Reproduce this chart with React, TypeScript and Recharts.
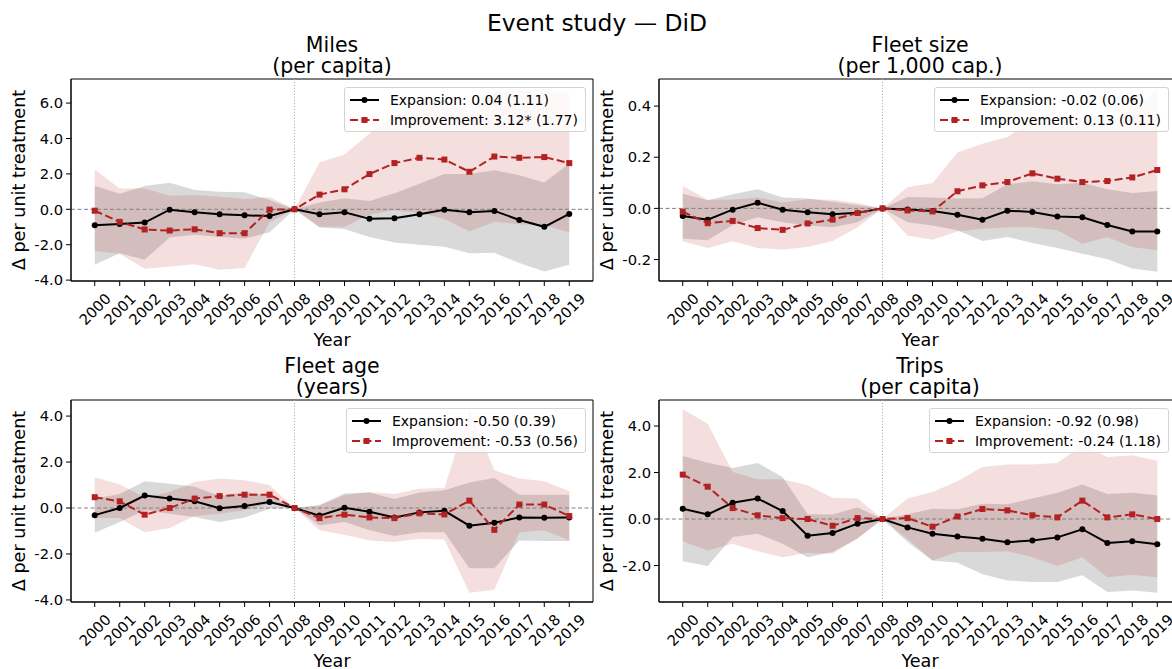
import React from 'react';
import {
  ComposedChart,
  Area,
  Line,
  XAxis,
  YAxis,
  ReferenceLine,
  ReferenceArea,
  Legend
} from 'recharts';

const FONT = '"DejaVu Sans", Verdana, sans-serif';
const RED = '#b22222';

const YEARS = [2000, 2001, 2002, 2003, 2004, 2005, 2006, 2007, 2008, 2009, 2010, 2011, 2012, 2013, 2014, 2015, 2016, 2017, 2018, 2019];

// Miles (per capita)
const milesExp = [-0.9, -0.83, -0.75, -0.02, -0.17, -0.28, -0.34, -0.38, 0, -0.28, -0.17, -0.54, -0.51, -0.28, -0.02, -0.17, -0.09, -0.6, -0.99, -0.26];
const milesExpLo = [-3.13, -2.48, -2.85, -1.59, -1.44, -1.56, -1.67, -1.29, 0, -1.03, -1.11, -1.56, -1.88, -2.0, -2.12, -2.48, -2.46, -3.04, -3.51, -3.13];
const milesExpHi = [1.33, 0.88, 1.31, 1.5, 1.09, 0.99, 0.96, 0.53, 0, 0.39, 0.62, 0.47, 0.9, 1.44, 2.0, 2.0, 2.21, 1.93, 1.52, 2.59];
const milesImp = [-0.08, -0.71, -1.14, -1.2, -1.13, -1.35, -1.35, -0.02, 0, 0.83, 1.13, 1.99, 2.61, 2.91, 2.81, 2.12, 2.98, 2.91, 2.95, 2.61];
const milesImpLo = [-2.35, -2.51, -3.36, -3.23, -3.1, -3.41, -3.32, -0.73, 0, -0.98, -0.98, -0.3, -0.05, -0.2, -0.55, -1.25, -0.7, -0.85, -0.9, -1.3];
const milesImpHi = [2.25, 1.18, 1.18, 0.77, 0.81, 0.71, 0.58, 0.69, 0, 2.65, 3.1, 4.28, 5.27, 6.0, 6.17, 5.49, 6.66, 6.67, 6.8, 6.52];
const milesLabels = ['Expansion: 0.04 (1.11)', 'Improvement: 3.12* (1.77)'];
const milesTicks = [-4, -2, 0, 2, 4, 6];

// Fleet size (per 1,000 cap.)
const fleetExp = [-0.03, -0.044, -0.005, 0.022, -0.005, -0.015, -0.023, -0.017, 0, -0.004, -0.01, -0.025, -0.044, -0.009, -0.014, -0.032, -0.035, -0.065, -0.09, -0.09];
const fleetExpLo = [-0.119, -0.125, -0.065, -0.035, -0.054, -0.067, -0.074, -0.054, 0, -0.054, -0.067, -0.086, -0.128, -0.112, -0.135, -0.155, -0.177, -0.199, -0.235, -0.248];
const fleetExpHi = [0.057, 0.032, 0.055, 0.075, 0.043, 0.039, 0.026, 0.013, 0, 0.045, 0.043, 0.039, 0.04, 0.094, 0.106, 0.094, 0.1, 0.075, 0.06, 0.068];
const fleetImp = [-0.013, -0.058, -0.049, -0.077, -0.084, -0.059, -0.044, -0.018, 0, -0.008, -0.012, 0.067, 0.09, 0.103, 0.137, 0.116, 0.103, 0.107, 0.121, 0.15];
const fleetImpLo = [-0.129, -0.155, -0.129, -0.155, -0.161, -0.151, -0.128, -0.074, 0, -0.106, -0.123, -0.09, -0.08, -0.074, -0.074, -0.086, -0.138, -0.112, -0.151, -0.164];
const fleetImpHi = [0.088, 0.034, 0.034, 0.043, 0.023, 0.036, 0.034, 0.021, 0, 0.084, 0.098, 0.219, 0.253, 0.279, 0.348, 0.318, 0.344, 0.326, 0.393, 0.464];
const fleetLabels = ['Expansion: -0.02 (0.06)', 'Improvement: 0.13 (0.11)'];
const fleetTicks = [-0.2, 0, 0.2, 0.4];

// Fleet age (years)
const ageExp = [-0.31, 0.0, 0.54, 0.41, 0.29, -0.01, 0.09, 0.26, 0, -0.33, 0.01, -0.16, -0.41, -0.19, -0.12, -0.77, -0.64, -0.41, -0.42, -0.41];
const ageExpLo = [-1.08, -0.61, -0.1, -0.25, -0.39, -0.61, -0.41, -0.03, 0, -0.76, -0.61, -0.97, -1.22, -1.05, -1.05, -2.62, -2.62, -1.41, -1.44, -1.44];
const ageExpHi = [0.41, 0.61, 1.16, 1.06, 0.92, 0.52, 0.7, 0.55, 0, 0.12, 0.63, 0.67, 0.39, 0.67, 0.77, 1.11, 1.31, 0.58, 0.58, 0.58];
const ageImp = [0.47, 0.29, -0.29, 0.0, 0.41, 0.52, 0.58, 0.58, 0, -0.44, -0.29, -0.41, -0.44, -0.23, -0.28, 0.32, -0.95, 0.15, 0.15, -0.35];
const ageImpLo = [-0.44, -0.44, -1.05, -0.87, -0.35, -0.25, -0.1, 0.17, 0, -0.97, -1.16, -1.41, -1.48, -1.34, -1.37, -3.69, -3.56, -1.05, -0.97, -1.41];
const ageImpHi = [1.34, 1.02, 0.47, 0.7, 1.13, 1.28, 1.21, 0.99, 0, 0.12, 0.55, 0.7, 0.61, 0.84, 0.87, 4.26, 1.64, 1.28, 1.16, 0.73];
const ageLabels = ['Expansion: -0.50 (0.39)', 'Improvement: -0.53 (0.56)'];
const ageTicks = [-4, -2, 0, 2, 4];

// Trips (per capita)
const tripsExp = [0.44, 0.2, 0.7, 0.88, 0.34, -0.72, -0.6, -0.2, 0, -0.36, -0.63, -0.75, -0.85, -1.0, -0.92, -0.79, -0.44, -1.03, -0.96, -1.09];
const tripsExpLo = [-1.82, -2.02, -0.77, -0.63, -1.06, -1.64, -1.42, -0.85, 0, -0.99, -1.78, -1.88, -2.38, -2.64, -2.71, -2.71, -2.42, -3.14, -3.07, -3.17];
const tripsExpHi = [2.71, 2.42, 2.2, 2.41, 1.81, 0.2, 0.19, 0.5, 0, 0.2, 0.44, 0.42, 0.66, 0.63, 0.88, 1.13, 1.49, 1.08, 1.13, 1.02];
const tripsImp = [1.91, 1.39, 0.47, 0.16, 0.04, 0.0, -0.29, 0.04, 0, 0.04, -0.33, 0.11, 0.43, 0.37, 0.16, 0.07, 0.79, 0.07, 0.2, 0.0];
const tripsImpLo = [-0.96, -1.35, -1.06, -1.39, -1.64, -1.45, -1.49, -0.82, 0, -0.85, -1.78, -1.42, -1.42, -1.39, -1.64, -2.02, -1.64, -2.5, -2.4, -2.5];
const tripsImpHi = [4.72, 4.1, 2.02, 1.71, 1.71, 1.45, 0.92, 0.88, 0, 0.88, 1.16, 1.62, 2.24, 2.34, 2.34, 2.41, 3.17, 2.67, 2.74, 2.51];
const tripsLabels = ['Expansion: -0.92 (0.98)', 'Improvement: -0.24 (1.18)'];
const tripsTicks = [-2, 0, 2, 4];

// chart geometry: plot area is 522 x 202, starting 71px in and 79px down
const CHART_W = 600;
const CHART_H = 351;
const PLOT_TOP = 79;
const PLOT_H = 202;

const panels = [
  { key: 'miles', title: ['Miles', '(per capita)'], exp: milesExp, expLo: milesExpLo, expHi: milesExpHi, imp: milesImp, impLo: milesImpLo, impHi: milesImpHi, labels: milesLabels, ticks: milesTicks, domain: [-4.05, 7.36], left: 0, top: 0, legendRight: 14 },
  { key: 'fleet', title: ['Fleet size', '(per 1,000 cap.)'], exp: fleetExp, expLo: fleetExpLo, expHi: fleetExpHi, imp: fleetImp, impLo: fleetImpLo, impHi: fleetImpHi, labels: fleetLabels, ticks: fleetTicks, domain: [-0.284, 0.506], left: 588, top: 0, legendRight: 19 },
  { key: 'age', title: ['Fleet age', '(years)'], exp: ageExp, expLo: ageExpLo, expHi: ageExpHi, imp: ageImp, impLo: ageImpLo, impHi: ageImpHi, labels: ageLabels, ticks: ageTicks, domain: [-4.09, 4.7], left: 0, top: 321, legendRight: 14 },
  { key: 'trips', title: ['Trips', '(per capita)'], exp: tripsExp, expLo: tripsExpLo, expHi: tripsExpHi, imp: tripsImp, impLo: tripsImpLo, impHi: tripsImpHi, labels: tripsLabels, ticks: tripsTicks, domain: [-3.57, 5.12], left: 588, top: 321, legendRight: 19 }
];

const YearTick = (props: any) => {
  const { x, y, payload } = props;
  const cy = y + 23;
  return (
    <text
      x={x}
      y={cy}
      textAnchor="middle"
      dominantBaseline="central"
      transform={`rotate(-45 ${x} ${cy})`}
      fontSize={14.7}
      fontFamily={FONT}
      fill="#000"
    >
      {payload.value}
    </text>
  );
};

const SquareDot = (props: any) => {
  const { cx, cy, index } = props;
  if (cx == null || cy == null) return <g key={`sq-${index}`} />;
  return <rect key={`sq-${index}`} x={cx - 3} y={cy - 3} width={6} height={6} fill={RED} />;
};

const YLabel = () => (
  <text
    x={25}
    y={PLOT_TOP + PLOT_H / 2}
    transform={`rotate(-90 25 ${PLOT_TOP + PLOT_H / 2})`}
    textAnchor="middle"
    fontSize={17.6}
    fontFamily={FONT}
    fill="#000"
  >
    Δ per unit treatment
  </text>
);

const LegendBox = ({ payload }: any) => {
  // only the two lines go in the legend, not the bands
  const items = (payload || []).filter((e: any) => e.dataKey === 'exp' || e.dataKey === 'imp');
  return (
    <div
      style={{
        background: 'rgba(255,255,255,0.8)',
        border: '1px solid #d3d3d3',
        borderRadius: 3,
        padding: '2px 7px 1px 5px',
        fontFamily: FONT,
        fontSize: 14,
        color: '#000'
      }}
    >
      {items.map((entry: any) => {
        const isImp = entry.dataKey === 'imp';
        return (
          <div key={entry.value} style={{ display: 'flex', alignItems: 'center', height: 20 }}>
            <svg width={29} height={10} style={{ marginRight: 11, flex: 'none' }}>
              <line
                x1={0}
                y1={5}
                x2={29}
                y2={5}
                stroke={isImp ? RED : '#000'}
                strokeWidth={2}
                strokeDasharray={isImp ? '8 3.5' : undefined}
              />
              {isImp ? (
                <rect x={11.5} y={2} width={6} height={6} fill={RED} />
              ) : (
                <circle cx={14.5} cy={5} r={3} fill="#000" />
              )}
            </svg>
            <span style={{ whiteSpace: 'nowrap' }}>{entry.value}</span>
          </div>
        );
      })}
    </div>
  );
};

function EventPanel({ p }: { p: any }) {
  const rows = YEARS.map((year, i) => ({
    year,
    exp: p.exp[i],
    expBand: [p.expLo[i], p.expHi[i]],
    imp: p.imp[i],
    impBand: [p.impLo[i], p.impHi[i]]
  }));

  return (
    <div style={{ position: 'absolute', left: p.left, top: p.top }}>
      <ComposedChart
        width={CHART_W}
        height={CHART_H}
        data={rows}
        margin={{ top: PLOT_TOP, right: 7, left: 0, bottom: 0 }}
      >
        <XAxis
          dataKey="year"
          type="number"
          domain={[1999.05, 2019.95]}
          ticks={YEARS}
          interval={0}
          allowDataOverflow
          height={70}
          tickSize={5}
          tickMargin={0}
          tick={<YearTick />}
          stroke="#000"
          label={{ value: 'Year', position: 'insideBottom', offset: 5.5, fill: '#000', fontSize: 17.6, fontFamily: FONT }}
        />
        <YAxis
          type="number"
          domain={p.domain}
          ticks={p.ticks}
          allowDataOverflow
          width={71}
          tickSize={5}
          tickMargin={3}
          tickFormatter={(v: number) => v.toFixed(1)}
          tick={{ fill: '#000', fontSize: 14.7, fontFamily: FONT }}
          stroke="#000"
          label={<YLabel />}
        />
        <Area
          dataKey="expBand"
          type="linear"
          stroke="none"
          fill="#000"
          fillOpacity={0.15}
          legendType="none"
          isAnimationActive={false}
        />
        <Area
          dataKey="impBand"
          type="linear"
          stroke="none"
          fill={RED}
          fillOpacity={0.15}
          legendType="none"
          isAnimationActive={false}
        />
        <ReferenceLine y={0} stroke="#808080" strokeWidth={1} strokeDasharray="4 2.5" />
        <ReferenceLine x={2008} stroke="#b0b0b0" strokeWidth={1} strokeDasharray="1.2 1.8" />
        <ReferenceArea
          x1={1999.05}
          x2={2019.95}
          y1={p.domain[0]}
          y2={p.domain[1]}
          fill="none"
          stroke="#000"
          strokeWidth={1}
        />
        <Line
          dataKey="exp"
          name={p.labels[0]}
          type="linear"
          stroke="#000"
          strokeWidth={2}
          dot={{ r: 3, fill: '#000', stroke: 'none' }}
          activeDot={false}
          isAnimationActive={false}
        />
        <Line
          dataKey="imp"
          name={p.labels[1]}
          type="linear"
          stroke={RED}
          strokeWidth={2}
          strokeDasharray="8 3.5"
          dot={<SquareDot />}
          activeDot={false}
          isAnimationActive={false}
        />
        <Legend
          layout="horizontal"
          verticalAlign="middle"
          align="center"
          wrapperStyle={{ left: 'auto', right: p.legendRight, top: PLOT_TOP + 7.5, width: 'auto', height: 'auto' }}
          content={<LegendBox />}
        />
      </ComposedChart>
    </div>
  );
}

export default function App() {
  return (
    <div
      style={{
        position: 'absolute',
        left: 0,
        top: 0,
        width: 1172,
        height: 669,
        overflow: 'hidden',
        background: '#fff',
        fontFamily: FONT
      }}
    >
      <svg width={1172} height={669} style={{ position: 'absolute', left: 0, top: 0 }}>
        <text x={597} y={30.5} textAnchor="middle" fontSize={23.4} fontFamily={FONT} fill="#000">
          Event study — DiD
        </text>
        {panels.map((p) => {
          const cx = p.left + 71 + 261;
          return (
            <text key={`t-${p.key}`} textAnchor="middle" fontSize={20.5} fontFamily={FONT} fill="#000">
              <tspan x={cx} y={p.top + 51.5}>{p.title[0]}</tspan>
              <tspan x={cx} y={p.top + 73.3}>{p.title[1]}</tspan>
            </text>
          );
        })}
      </svg>
      {panels.map((p) => (
        <EventPanel key={p.key} p={p} />
      ))}
    </div>
  );
}
